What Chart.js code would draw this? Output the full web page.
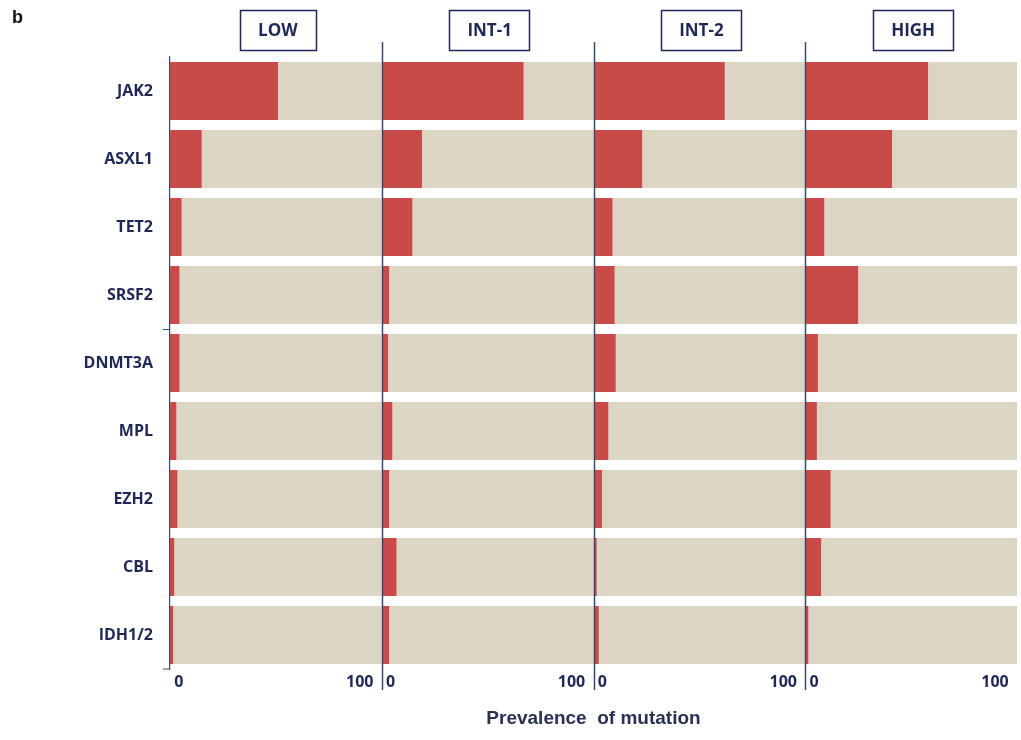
<!DOCTYPE html>
<html>
<head>
<meta charset="utf-8">
<script src="https://cdn.jsdelivr.net/npm/chart.js@4.4.1/dist/chart.umd.min.js"></script>
<style>
  html, body { margin: 0; padding: 0; background: #fff; }
  #wrap { width: 1021px; height: 740px; }
</style>
</head>
<body>
<div id="wrap"><canvas id="myChart" width="1021" height="740"></canvas></div>
<script>
// genes (rows) and risk groups (panels)
const genes = ['JAK2', 'ASXL1', 'TET2', 'SRSF2', 'DNMT3A', 'MPL', 'EZH2', 'CBL', 'IDH1/2'];
const panels = ['LOW', 'INT-1', 'INT-2', 'HIGH'];

// prevalence of mutation (%) per panel
const low  = [51, 15, 5.5, 4.5, 4.5, 3, 3.5, 2, 1.5];
const int1 = [67, 19, 14.5, 3.5, 3, 5, 3.5, 7, 3.5];
const int2 = [62, 23, 9, 10, 10.5, 7, 4, 1.5, 2.5];
const high = [58, 41, 9, 25, 6, 5.5, 12, 7.5, 1.5];

const xTicks = [0, 100];
const axisTitle = 'Prevalence  of mutation';
const panelLetter = 'b';

const red = '#c84b4a';
const beige = '#dcd5c3';
const navy = '#1f2755';
const lineCol = '#3b4868';

Chart.defaults.font.family = '"Open Sans", "Liberation Sans", sans-serif';

const series = [low, int1, int2, high];
const datasets = [];
series.forEach((vals, i) => {
  datasets.push({
    label: panels[i],
    data: vals,
    xAxisID: 'x' + i,
    backgroundColor: red,
    grouped: false,
    barPercentage: 0.85,
    categoryPercentage: 1
  });
  datasets.push({
    label: panels[i] + ' rest',
    data: vals.map(v => 100 - v),
    xAxisID: 'x' + i,
    backgroundColor: beige,
    grouped: false,
    barPercentage: 0.85,
    categoryPercentage: 1
  });
});

const scales = {
  y: {
    type: 'category',
    position: 'left',
    grid: { display: false, drawTicks: false },
    border: { display: true, color: lineCol, width: 1.2 },
    ticks: { color: navy, font: { size: 16, weight: 'bold' }, padding: 17 },
    afterFit: s => { s.width = 170; }
  }
};
panels.forEach((p, i) => {
  scales['x' + i] = {
    type: 'linear',
    position: 'bottom',
    stack: 'panels',
    stackWeight: 1,
    stacked: true,
    min: 0,
    max: 100,
    afterBuildTicks: s => { s.ticks = xTicks.map(v => ({ value: v })); },
    grid: { display: false, drawTicks: false },
    border: { display: false },
    ticks: {
      align: 'inner',
      color: navy,
      font: { size: 16, weight: 'bold' },
      padding: 4,
      // small gap from the panel dividers
      callback: v => (v === 0 ? ' 0' : v + '  ')
    },
    afterFit: s => { s.height = 71; }
  };
});

const decor = {
  id: 'decor',
  afterDraw(chart) {
    const ctx = chart.ctx;
    const area = chart.chartArea;
    const y = chart.scales.y;
    ctx.save();
    // panel dividers
    ctx.strokeStyle = lineCol;
    ctx.lineWidth = 1.5;
    for (let i = 1; i < panels.length; i++) {
      const x = Math.round(chart.scales['x' + i].left) + 0.5;
      ctx.beginPath();
      ctx.moveTo(x, 42);
      ctx.lineTo(x, 690);
      ctx.stroke();
    }
    // small ticks on left axis
    ctx.lineWidth = 1;
    const midY = Math.round((y.getPixelForValue(3) + y.getPixelForValue(4)) / 2) + 0.5;
    ctx.beginPath();
    ctx.moveTo(area.left - 7, midY);
    ctx.lineTo(area.left, midY);
    ctx.moveTo(area.left - 7, area.bottom);
    ctx.lineTo(area.left, area.bottom);
    ctx.stroke();

    // boxed panel titles
    ctx.font = 'bold 17px "Open Sans", sans-serif';
    ctx.textAlign = 'center';
    ctx.textBaseline = 'middle';
    panels.forEach((p, i) => {
      const s = chart.scales['x' + i];
      const cx = (s.left + s.right) / 2 + 2;
      const tw = ctx.measureText(p).width;
      const w = tw + 36;
      ctx.fillStyle = '#fff';
      ctx.fillRect(cx - w / 2, 10, w, 40);
      ctx.strokeStyle = navy;
      ctx.lineWidth = 1.5;
      ctx.strokeRect(Math.round(cx - w / 2) + 0.5, 10.5, Math.round(w), 40);
      ctx.fillStyle = navy;
      ctx.fillText(p, cx, 31);
    });

    // shared axis title
    ctx.font = 'bold 19px "Liberation Sans", Arial, sans-serif';
    ctx.fillStyle = '#2a3052';
    ctx.fillText(axisTitle, (area.left + area.right) / 2, 719);

    // panel letter
    ctx.font = 'bold 18px "Liberation Sans", Arial, sans-serif';
    ctx.fillStyle = '#111';
    ctx.textAlign = 'left';
    ctx.fillText(panelLetter, 12, 18);
    ctx.restore();
  }
};

new Chart(document.getElementById('myChart').getContext('2d'), {
  type: 'bar',
  data: { labels: genes, datasets: datasets },
  options: {
    indexAxis: 'y',
    responsive: false,
    animation: false,
    layout: { padding: { top: 57, right: 4, left: 0, bottom: 0 } },
    plugins: { legend: { display: false }, tooltip: { enabled: false } },
    scales: scales
  },
  plugins: [decor]
});
</script>
</body>
</html>
